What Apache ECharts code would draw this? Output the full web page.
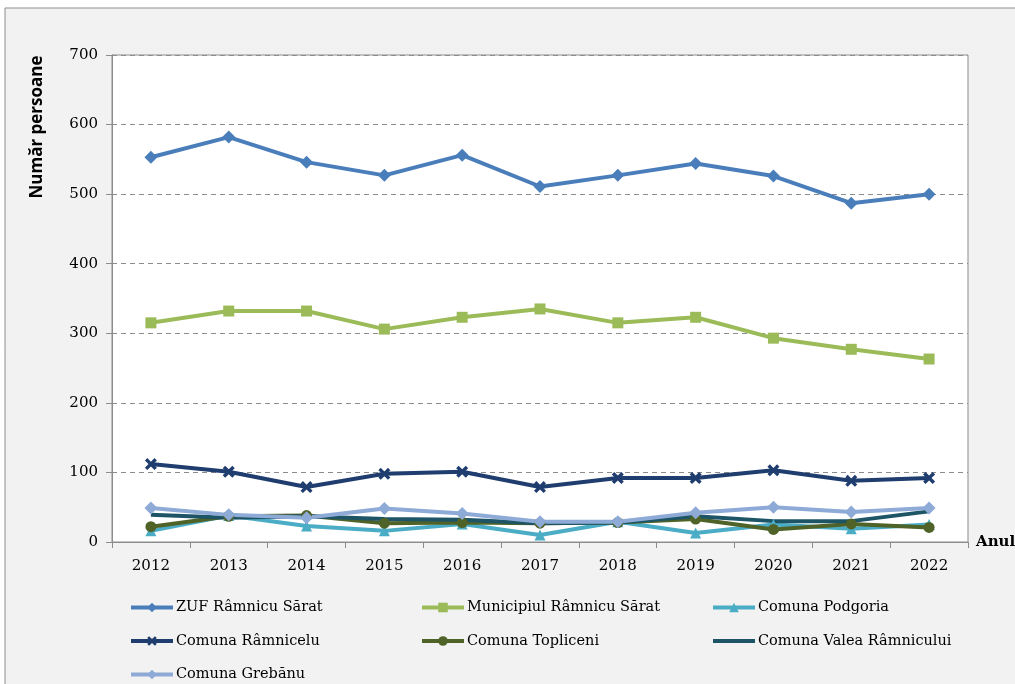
<!DOCTYPE html>
<html>
<head>
<meta charset="utf-8">
<script src="https://cdn.jsdelivr.net/npm/echarts@6/dist/echarts.min.js"></script>
<style>
html,body{margin:0;padding:0;background:#ffffff;}
#chart{width:1015px;height:684px;}
</style>
</head>
<body>
<div id="chart"></div>
<script>
const years = ['2012','2013','2014','2015','2016','2017','2018','2019','2020','2021','2022'];
const zufRamnicuSarat = [553, 582, 546, 527, 556, 511, 527, 544, 526, 487, 500];
const municipiulRamnicuSarat = [315, 332, 332, 306, 323, 335, 315, 323, 293, 277, 263];
const comunaPodgoria = [16, 38, 23, 16, 26, 10, 29, 13, 25, 19, 25];
const comunaRamnicelu = [112, 101, 79, 98, 101, 79, 92, 92, 103, 88, 92];
const comunaTopliceni = [22, 37, 38, 27, 28, 27, 28, 33, 18, 26, 21];
const comunaValeaRamnicului = [39, 35, 37, 33, 32, 27, 28, 37, 30, 30, 44];
const comunaGrebanu = [49, 39, 35, 48, 41, 29, 29, 42, 50, 43, 49];
const seriesNames = ['ZUF Râmnicu Sărat','Municipiul Râmnicu Sărat','Comuna Podgoria','Comuna Râmnicelu','Comuna Topliceni','Comuna Valea Râmnicului','Comuna Grebănu'];

const FONT = 'DejaVu Serif';
const crossPath = 'path://M0,2 L2,0 L5,3 L8,0 L10,2 L7,5 L10,8 L8,10 L5,7 L2,10 L0,8 L3,5 Z';

function mk(name, data, color, symbol, size, hideSymbol) {
  return {
    name: name, type: 'line', data: data,
    symbol: symbol, symbolSize: size, showSymbol: !hideSymbol,
    lineStyle: {color: color, width: 4},
    itemStyle: {color: color, opacity: hideSymbol ? 0 : 1},
    emphasis: {disabled: true},
    animation: false
  };
}

const chart = echarts.init(document.getElementById('chart'));
const legendCommon = {
  type: 'plain', orient: 'vertical', top: 595, height: 120, itemWidth: 42, itemHeight: 12, itemGap: 18.5,
  textStyle: {fontFamily: FONT, fontSize: 14.5, color: '#000', padding: [0,0,0,-2]},
  lineStyle: {width: 4},
  selectedMode: false
};
chart.setOption({
  backgroundColor: '#ffffff',
  graphic: [
    {type: 'rect', z: -10, shape: {x: 5, y: 8, width: 1100, height: 700},
     style: {fill: '#f2f2f2', stroke: '#8c8c8c', lineWidth: 1}},
    {type: 'text', x: 37, y: 127, rotation: Math.PI / 2,
     style: {text: 'Număr persoane', font: 'bold 17px "Open Sans", "DejaVu Sans", sans-serif',
             fill: '#000', align: 'center', verticalAlign: 'middle'}}
  ],
  grid: {left: 112, top: 55, right: 47, bottom: 142, show: true, outerBoundsMode: 'none', containLabel: false,
         backgroundColor: '#ffffff', borderColor: '#8c8c8c', borderWidth: 1},
  legend: [
    Object.assign({left: 124, data: [seriesNames[0], seriesNames[3], seriesNames[6]]}, legendCommon),
    Object.assign({left: 415, data: [seriesNames[1], seriesNames[4]]}, legendCommon),
    Object.assign({left: 706, data: [seriesNames[2], seriesNames[5]]}, legendCommon)
  ],
  xAxis: {
    type: 'category', data: years, boundaryGap: true,
    name: 'Anul', nameLocation: 'end', nameGap: 8,
    nameTextStyle: {fontFamily: FONT, fontSize: 15, fontWeight: 'bold', color: '#000', verticalAlign: 'middle', padding: [0,0,14,0]},
    axisLine: {lineStyle: {color: '#8c8c8c'}},
    axisTick: {show: true, length: 6, lineStyle: {color: '#8c8c8c'}},
    axisLabel: {fontFamily: FONT, fontSize: 15, color: '#000', margin: 17},
    splitLine: {show: false}
  },
  yAxis: {
    type: 'value', min: 0, max: 700, interval: 100,
    axisLine: {show: true, lineStyle: {color: '#8c8c8c'}},
    axisTick: {show: true, length: 6, lineStyle: {color: '#8c8c8c'}},
    axisLabel: {fontFamily: FONT, fontSize: 15, color: '#000', margin: 14},
    splitLine: {show: true, lineStyle: {color: '#8c8c8c', type: [5, 4], width: 1}}
  },
  series: [
    mk(seriesNames[0], zufRamnicuSarat, '#4a7ebb', 'diamond', 13),
    mk(seriesNames[1], municipiulRamnicuSarat, '#9bbb59', 'rect', 11),
    mk(seriesNames[2], comunaPodgoria, '#4bacc6', 'triangle', 11),
    mk(seriesNames[3], comunaRamnicelu, '#1f3d6e', crossPath, 12),
    mk(seriesNames[4], comunaTopliceni, '#4f6228', 'circle', 11),
    mk(seriesNames[5], comunaValeaRamnicului, '#1d5466', 'circle', 1, true),
    mk(seriesNames[6], comunaGrebanu, '#8eaad6', 'diamond', 13)
  ]
});
</script>
</body>
</html>
